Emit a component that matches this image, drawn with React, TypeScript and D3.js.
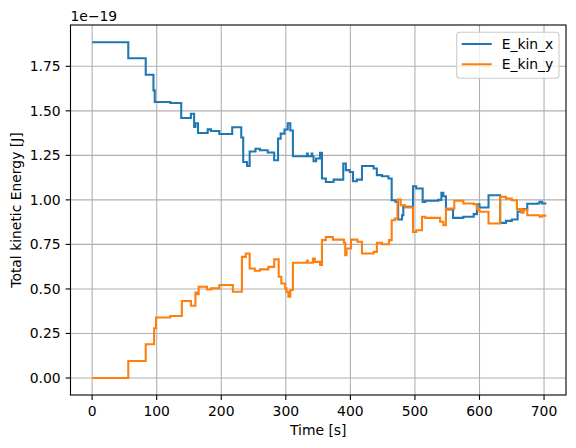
import * as d3 from "d3";

// E_kin_x: step change times [s] and values [1e-19 J]
const timesX = [
  0, 56, 83, 95, 97, 121, 138, 153, 158, 160, 164, 179, 184, 197, 217, 231, 234, 240, 244, 253,
  260, 272, 282, 288, 292, 298, 303, 307, 311, 333, 334, 340, 341, 343, 347, 353, 356, 362, 374, 389,
  393, 399, 404, 410, 418, 436, 441, 449, 459, 464, 470, 474, 480, 482, 497, 502, 512, 516, 536, 541,
  544, 548, 559, 575, 591, 596, 600, 614, 632, 641, 650, 659, 668, 674, 689, 693, 697, 702,
];
const energyX = [
  1.885, 1.795, 1.703, 1.615, 1.55, 1.544, 1.46, 1.484, 1.41, 1.43, 1.376, 1.396, 1.387, 1.37, 1.408, 1.35, 1.213, 1.19, 1.272, 1.287,
  1.279, 1.266, 1.223, 1.344, 1.372, 1.395, 1.43, 1.39, 1.245, 1.26, 1.245, 1.26, 1.245, 1.217, 1.232, 1.264, 1.12, 1.1, 1.114, 1.204,
  1.167, 1.157, 1.105, 1.114, 1.19, 1.176, 1.139, 1.133, 1.12, 0.998, 0.989, 0.89, 0.914, 0.961, 1.077, 1.064, 0.989, 0.995, 1.0, 1.04,
  1.02, 0.946, 0.899, 0.905, 0.92, 0.976, 0.957, 1.026, 0.871, 0.882, 0.89, 0.935, 0.948, 0.978, 0.98, 0.99, 0.98, 0.985,
];

// E_kin_y
const timesY = [
  0, 56, 83, 96, 99, 121, 139, 153, 160, 162, 165, 178, 184, 197, 218, 232, 238, 244, 252, 260,
  273, 282, 289, 293, 299, 301, 304, 307, 311, 333, 334, 342, 345, 353, 356, 362, 373, 390, 392, 394,
  401, 411, 418, 436, 441, 449, 460, 464, 469, 473, 478, 485, 497, 502, 511, 516, 539, 544, 548, 561,
  575, 591, 596, 600, 614, 632, 641, 650, 658, 665, 668, 674, 693, 697, 702,
];
const energyY = [
  0.0, 0.095, 0.189, 0.279, 0.34, 0.348, 0.432, 0.406, 0.48, 0.471, 0.512, 0.497, 0.503, 0.522, 0.484, 0.68, 0.699, 0.615, 0.602, 0.61,
  0.624, 0.666, 0.568, 0.531, 0.503, 0.484, 0.456, 0.494, 0.647, 0.66, 0.647, 0.671, 0.652, 0.634, 0.774, 0.792, 0.777, 0.759, 0.69, 0.727,
  0.777, 0.765, 0.699, 0.708, 0.759, 0.751, 0.774, 0.886, 0.896, 1.002, 0.97, 0.957, 0.82, 0.83, 0.905, 0.899, 0.877, 0.858, 0.951, 0.995,
  0.98, 0.976, 0.946, 0.933, 0.867, 1.017, 1.007, 0.998, 0.948, 0.928, 0.946, 0.914, 0.905, 0.912, 0.905,
];

const xTicks = [0, 100, 200, 300, 400, 500, 600, 700];
const yTicks = [0, 0.25, 0.5, 0.75, 1.0, 1.25, 1.5, 1.75];
const seriesNames = ["E_kin_x", "E_kin_y"];

const W = 576;
const H = 448;
const left = 70.5;
const right = 566;
const top = 25;
const bottom = 395;
const font = "DejaVu Sans, sans-serif";
const colors = ["#1f77b4", "#ff7f0e"];

export default function App() {
  const x = d3.scaleLinear().domain([-33.5, 734]).range([left, right]);
  const y = d3.scaleLinear().domain([-0.0955, 1.982]).range([bottom, top]);

  const line = d3
    .line<[number, number]>()
    .x((d) => x(d[0]))
    .y((d) => y(d[1]))
    .curve(d3.curveStepAfter);

  const seriesX = timesX.map((t, i) => [t, energyX[i]] as [number, number]);
  const seriesY = timesY.map((t, i) => [t, energyY[i]] as [number, number]);

  return (
    <svg width={W} height={H} style={{ position: "absolute", left: 0, top: 0 }} fontFamily={font}>
      <rect width={W} height={H} fill="white" />
      {/* grid */}
      <g stroke="#b0b0b0" strokeWidth={1.1}>
        {xTicks.map((t) => (
          <line key={"gx" + t} x1={x(t)} x2={x(t)} y1={top} y2={bottom} />
        ))}
        {yTicks.map((t) => (
          <line key={"gy" + t} x1={left} x2={right} y1={y(t)} y2={y(t)} />
        ))}
      </g>
      {/* series */}
      <path d={line(seriesX) ?? ""} fill="none" stroke={colors[0]} strokeWidth={2.08} />
      <path d={line(seriesY) ?? ""} fill="none" stroke={colors[1]} strokeWidth={2.08} />
      {/* spines */}
      <rect x={left} y={top} width={right - left} height={bottom - top} fill="none" stroke="black" strokeWidth={1.1} />
      {/* x axis */}
      {xTicks.map((t) => (
        <g key={"tx" + t}>
          <line x1={x(t)} x2={x(t)} y1={bottom} y2={bottom + 4.9} stroke="black" strokeWidth={1.1} />
          <text x={x(t)} y={bottom + 20.5} fontSize={13.9} textAnchor="middle">
            {t}
          </text>
        </g>
      ))}
      {/* y axis */}
      {yTicks.map((t) => (
        <g key={"ty" + t}>
          <line x1={left - 4.9} x2={left} y1={y(t)} y2={y(t)} stroke="black" strokeWidth={1.1} />
          <text x={left - 9.8} y={y(t)} dy="0.36em" fontSize={13.9} textAnchor="end">
            {t.toFixed(2)}
          </text>
        </g>
      ))}
      <text x={left} y={20.5} fontSize={13.9}>
        1e−19
      </text>
      <text x={(left + right) / 2} y={435} fontSize={13.9} textAnchor="middle">
        Time [s]
      </text>
      <text
        transform={`translate(21,${(top + bottom) / 2}) rotate(-90)`}
        fontSize={13.9}
        textAnchor="middle"
      >
        Total kinetic Energy [J]
      </text>
      {/* legend */}
      <g>
        <rect x={456.7} y={32.3} width={102.3} height={46} rx={3} fill="white" fillOpacity={0.8} stroke="#cccccc" strokeWidth={1.1} />
        {seriesNames.map((name, i) => (
          <g key={name} transform={`translate(0,${44 + i * 20.3})`}>
            <line x1={461.7} x2={491.7} y1={0} y2={0} stroke={colors[i]} strokeWidth={2.08} />
            <text x={501.7} y={0} dy="0.36em" fontSize={13.9}>
              {name}
            </text>
          </g>
        ))}
      </g>
    </svg>
  );
}
